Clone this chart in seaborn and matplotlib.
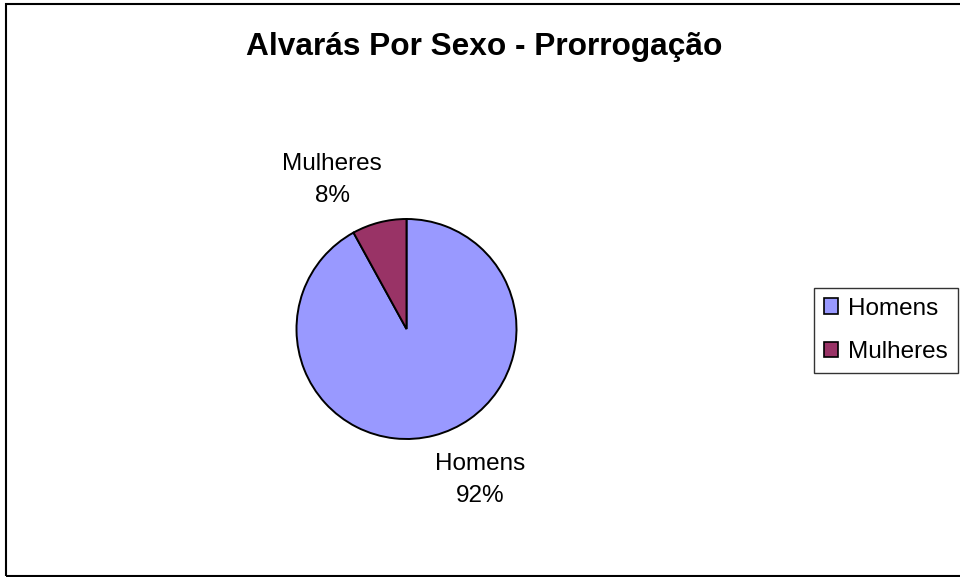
import matplotlib
matplotlib.use("Agg")
import matplotlib.pyplot as plt
import seaborn as sns
from matplotlib.patches import Rectangle, Patch

# Data
categories = ["Homens", "Mulheres"]
values = [92, 8]
colors = ["#9999FF", "#993366"]
title = "Alvarás Por Sexo - Prorrogação"

sns.set_theme(style="white")
plt.rcParams["font.family"] = ["Liberation Sans", "DejaVu Sans"]
plt.rcParams["text.color"] = "black"

W, H = 960, 577
fig = plt.figure(figsize=(W / 100, H / 100), dpi=100)
fig.patch.set_facecolor("white")

# outer frame
fig.add_artist(Rectangle((6 / W, 1 - 576 / H), (W + 10) / W, (576 - 4) / H,
                         transform=fig.transFigure, fill=False,
                         edgecolor="black", linewidth=1.5))

# pie axes
cx, cy, r = 406.5, 329, 110
ax = fig.add_axes([(cx - r) / W, (H - cy - r) / H, 2 * r / W, 2 * r / H])
wedges, _ = ax.pie(values, colors=colors, startangle=90, counterclock=False,
                   wedgeprops=dict(edgecolor="black", linewidth=1.4))
ax.set_xlim(-1, 1)
ax.set_ylim(-1, 1)
ax.set_aspect("equal")
ax.axis("off")

# data labels
label_pos = {"Homens": (480, 480), "Mulheres": (332, 180)}
total = sum(values)
for cat, v in zip(categories, values):
    px, py = label_pos[cat]
    fig.text(px / W, 1 - py / H, f"{cat}\n{100 * v / total:.0f}%",
             ha="center", va="center", fontsize=17.5, linespacing=1.55,
             color="black")

# title
fig.text(484 / W, 1 - 55 / H, title, ha="center", va="baseline",
         fontsize=22.8, fontweight="bold", color="black")

# legend
handles = [Patch(facecolor=c, edgecolor="black", linewidth=1.2) for c in colors]
leg = fig.legend(handles, categories, loc="upper left",
                 bbox_to_anchor=(814 / W, 1 - 288 / H),
                 bbox_transform=fig.transFigure,
                 fontsize=17.5, frameon=True, fancybox=False, shadow=False,
                 handlelength=0.6, handleheight=0.6, handletextpad=0.4,
                 borderpad=0.4, labelspacing=0.88, borderaxespad=0,
                 labelcolor="black")
leg.get_frame().set_edgecolor("black")
leg.get_frame().set_linewidth(1.0)

fig.savefig("out.png", dpi=100)
